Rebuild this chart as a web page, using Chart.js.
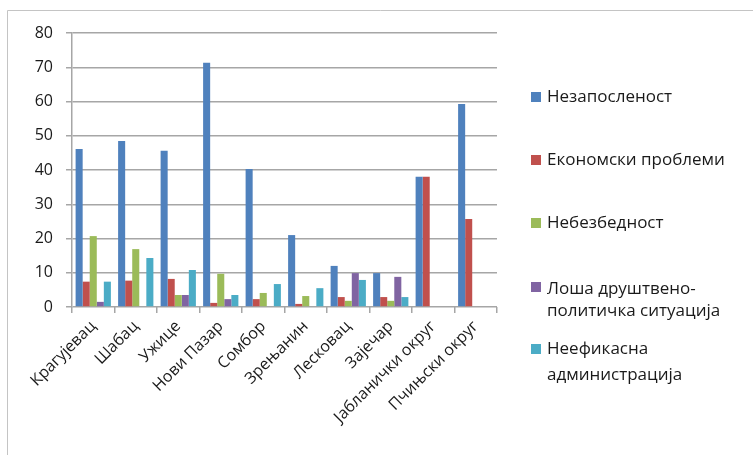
<!DOCTYPE html>
<html>
<head>
<meta charset="utf-8">
<script src="https://cdn.jsdelivr.net/npm/chart.js@4"></script>
<style>
html,body{margin:0;padding:0;background:#fff;}
#wrap{width:753px;height:455px;position:relative;}
</style>
</head>
<body>
<div id="wrap"><canvas id="c" width="753" height="455"></canvas></div>
<script>
const categories = ['Крагујевац','Шабац','Ужице','Нови Пазар','Сомбор','Зрењанин','Лесковац','Зајечар','Јабланички округ','Пчињски округ'];
const unemployment = [46.1, 48.5, 45.6, 71.3, 40.3, 21.0, 12.0, 9.9, 38.0, 59.3];
const economic     = [7.4, 7.7, 8.2, 1.2, 2.3, 0.9, 2.9, 2.9, 38.0, 25.7];
const insecurity   = [20.7, 16.9, 3.5, 9.7, 4.1, 3.2, 1.8, 1.8, 0, 0];
const political    = [1.5, 0, 3.5, 2.3, 0, 0, 9.9, 8.8, 0, 0];
const admin        = [7.4, 14.3, 10.8, 3.5, 6.7, 5.5, 7.9, 2.9, 0, 0];
const seriesNames = [['Незапосленост'], ['Економски проблеми'], ['Небезбедност'], ['Лоша друштвено-', 'политичка ситуација'], ['Неефикасна', 'администрација']];
const yTicks = [0, 10, 20, 30, 40, 50, 60, 70, 80];

const colors = ['#4F81BD', '#C0504D', '#9BBB59', '#8064A2', '#4BACC6'];
const seriesData = [unemployment, economic, insecurity, political, admin];

const legendPos = [
  {sq: 97, lines: [97]},
  {sq: 160, lines: [160]},
  {sq: 223, lines: [223]},
  {sq: 287, lines: [289, 311]},
  {sq: 349, lines: [349, 375]}
];

const frame = {
  id: 'frame',
  beforeDraw(chart) {
    const ctx = chart.ctx;
    ctx.save();
    ctx.fillStyle = '#fff';
    ctx.fillRect(0, 0, chart.width, chart.height);
    ctx.strokeStyle = '#c4c4c4';
    ctx.lineWidth = 1;
    ctx.beginPath();
    ctx.moveTo(7.5, 460);
    ctx.lineTo(7.5, 10.5);
    ctx.lineTo(760, 10.5);
    ctx.stroke();
    ctx.restore();
  }
};

const sideLegend = {
  id: 'sideLegend',
  afterDraw(chart) {
    const ctx = chart.ctx;
    ctx.save();
    ctx.font = '17px "Open Sans", sans-serif';
    ctx.textBaseline = 'middle';
    chart.data.datasets.forEach((ds, i) => {
      const p = legendPos[i];
      ctx.fillStyle = ds.backgroundColor;
      ctx.fillRect(531, p.sq - 5, 10, 10);
      ctx.fillStyle = '#1a1a1a';
      seriesNames[i].forEach((t, j) => ctx.fillText(t, 547, p.lines[j]));
    });
    ctx.restore();
  }
};

new Chart(document.getElementById('c'), {
  type: 'bar',
  data: {
    labels: categories,
    datasets: seriesData.map((d, i) => ({
      label: seriesNames[i].join(' '),
      data: d,
      backgroundColor: colors[i],
      borderWidth: 0,
      categoryPercentage: 0.83,
      barPercentage: 1.0
    }))
  },
  options: {
    responsive: false,
    animation: false,
    devicePixelRatio: 1,
    layout: {padding: {left: 0, top: 33, right: 256, bottom: 0}},
    plugins: {legend: {display: false}, tooltip: {enabled: false}},
    scales: {
      x: {
        offset: true,
        grid: {display: true, drawOnChartArea: false, drawTicks: true, tickLength: 6, color: '#a6a6a6', lineWidth: 1.5, offset: true},
        border: {display: false},
        ticks: {
          font: {family: '"Open Sans", sans-serif', size: 16},
          color: '#1a1a1a',
          minRotation: 45, maxRotation: 45,
          autoSkip: false,
          padding: 4
        },
        afterFit(s) { s.height = 148; }
      },
      y: {
        min: 0, max: 80,
        afterBuildTicks(s) { s.ticks = yTicks.map(v => ({value: v})); },
        grid: {color: '#a6a6a6', lineWidth: 1.5, tickLength: 6, drawTicks: true},
        border: {display: true, color: '#a6a6a6', width: 1.5},
        ticks: {
          font: {family: '"Open Sans", sans-serif', size: 16},
          color: '#1a1a1a',
          padding: 13
        },
        afterFit(s) { s.width = 72; }
      }
    }
  },
  plugins: [frame, sideLegend]
});
</script>
</body>
</html>
